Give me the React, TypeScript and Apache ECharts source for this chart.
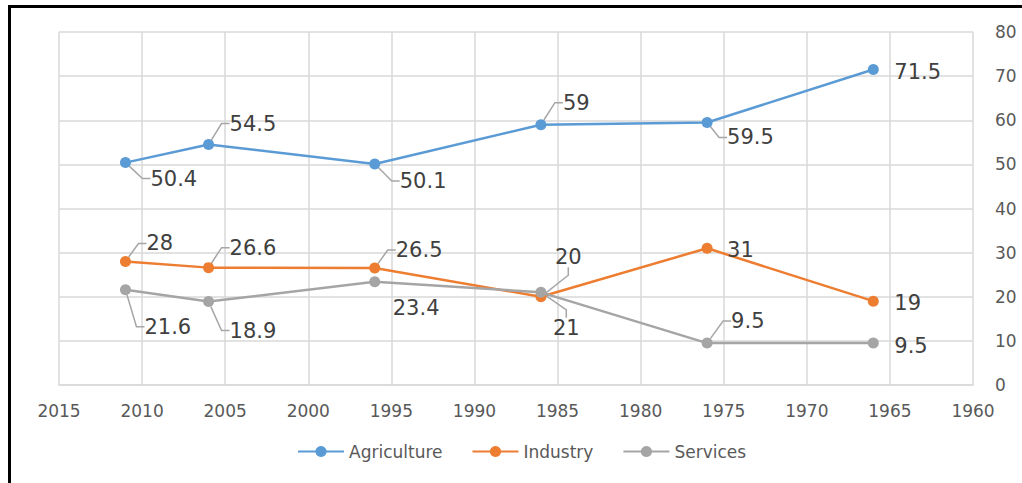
import React, { useEffect, useRef } from "react";
import * as echarts from "echarts";

const years = [2011, 2006, 1996, 1986, 1976, 1966];
const agriculture = [50.4, 54.5, 50.1, 59, 59.5, 71.5];
const industry = [28, 26.6, 26.5, 20, 31, 19];
const services = [21.6, 18.9, 23.4, 21, 9.5, 9.5];
const seriesNames = ["Agriculture", "Industry", "Services"];
const yTicks = { min: 0, max: 80, interval: 10 };
const xTicks = { min: 1960, max: 2015, interval: 5 };

// label placement (styling, not data): [dx, dy] from point, and whether a leader line shows
const agriOffsets = [[25, 16], [21, -21], [25, 17], [22, -22], [20, 15], [21, 2]];
const indOffsets = [[21, -18], [21, -20], [21, -18], [14, -40], [20, 2], [21, 2]];
const servOffsets = [[19, 37], [21, 29], [18, 26], [12, 36], [24, -22], [21, 3]];
const agriLeader = [true, true, true, true, true, false];
const indLeader = [true, true, true, true, false, false];
const servLeader = [true, true, false, true, true, false];

const colors = ["#5b9bd5", "#ed7d31", "#a5a5a5"];
const FONT = "DejaVu Sans";

function makeSeries(name: string, values: number[], color: string, offsets: number[][], leaders: boolean[]) {
  return {
    name,
    type: "line",
    data: values.map((v, i) => ({
      value: [years[i], v],
      labelLine: { show: leaders[i] },
    })),
    symbol: "circle",
    symbolSize: 11,
    showSymbol: true,
    lineStyle: { color, width: 2.5 },
    itemStyle: { color },
    label: {
      show: true,
      formatter: (p: any) => String(p.value[1]),
      color: "#404040",
      fontFamily: FONT,
      fontSize: 21,
      position: "right",
    },
    labelLine: {
      show: true,
      lineStyle: { color: "#a6a6a6", width: 1.5 },
      length2: 8,
    },
    labelLayout: (p: any) => {
      const o = offsets[p.dataIndex];
      const cx = p.rect.x + p.rect.width / 2;
      const cy = p.rect.y + p.rect.height / 2;
      return { x: cx + o[0], y: cy + o[1], align: "left", verticalAlign: "middle" };
    },
  };
}

export default function App() {
  const ref = useRef<HTMLDivElement>(null);
  useEffect(() => {
    if (!ref.current) return;
    const chart = echarts.init(ref.current, null, { renderer: "svg" });
    chart.setOption({
      animation: false,
      backgroundColor: "#ffffff",
      color: colors,
      grid: { left: 59, right: 49, top: 32, bottom: 98, containLabel: false },
      xAxis: {
        type: "value",
        inverse: true,
        min: xTicks.min,
        max: xTicks.max,
        interval: xTicks.interval,
        axisLine: { show: true, lineStyle: { color: "#d9d9d9", width: 1.5 } },
        axisTick: { show: false },
        splitLine: { show: true, lineStyle: { color: "#d9d9d9", width: 1.5 } },
        axisLabel: {
          color: "#595959",
          fontFamily: FONT,
          fontSize: 17,
          margin: 17,
          formatter: (v: number) => String(v),
        },
      },
      yAxis: {
        type: "value",
        position: "right",
        min: yTicks.min,
        max: yTicks.max,
        interval: yTicks.interval,
        axisLine: { show: false },
        axisTick: { show: false },
        splitLine: { show: true, lineStyle: { color: "#d9d9d9", width: 1.5 } },
        axisLabel: {
          color: "#595959",
          fontFamily: FONT,
          fontSize: 17,
          margin: 22,
        },
      },
      legend: {
        data: seriesNames,
        left: 292,
        top: 438,
        itemWidth: 46,
        itemHeight: 14,
        itemGap: 29,
        textStyle: { color: "#595959", fontFamily: FONT, fontSize: 17 },
      },
      graphic: [
        { type: "line", shape: { x1: 8, y1: 6.5, x2: 1022, y2: 6.5 }, style: { stroke: "#000", lineWidth: 3 } },
        { type: "line", shape: { x1: 9.5, y1: 5, x2: 9.5, y2: 483 }, style: { stroke: "#000", lineWidth: 3 } },
      ],
      series: [
        makeSeries(seriesNames[0], agriculture, colors[0], agriOffsets, agriLeader),
        makeSeries(seriesNames[1], industry, colors[1], indOffsets, indLeader),
        makeSeries(seriesNames[2], services, colors[2], servOffsets, servLeader),
      ],
    });
    return () => chart.dispose();
  }, []);
  return (
    <div
      ref={ref}
      style={{ position: "fixed", left: 0, top: 0, width: 1022, height: 483 }}
    />
  );
}
